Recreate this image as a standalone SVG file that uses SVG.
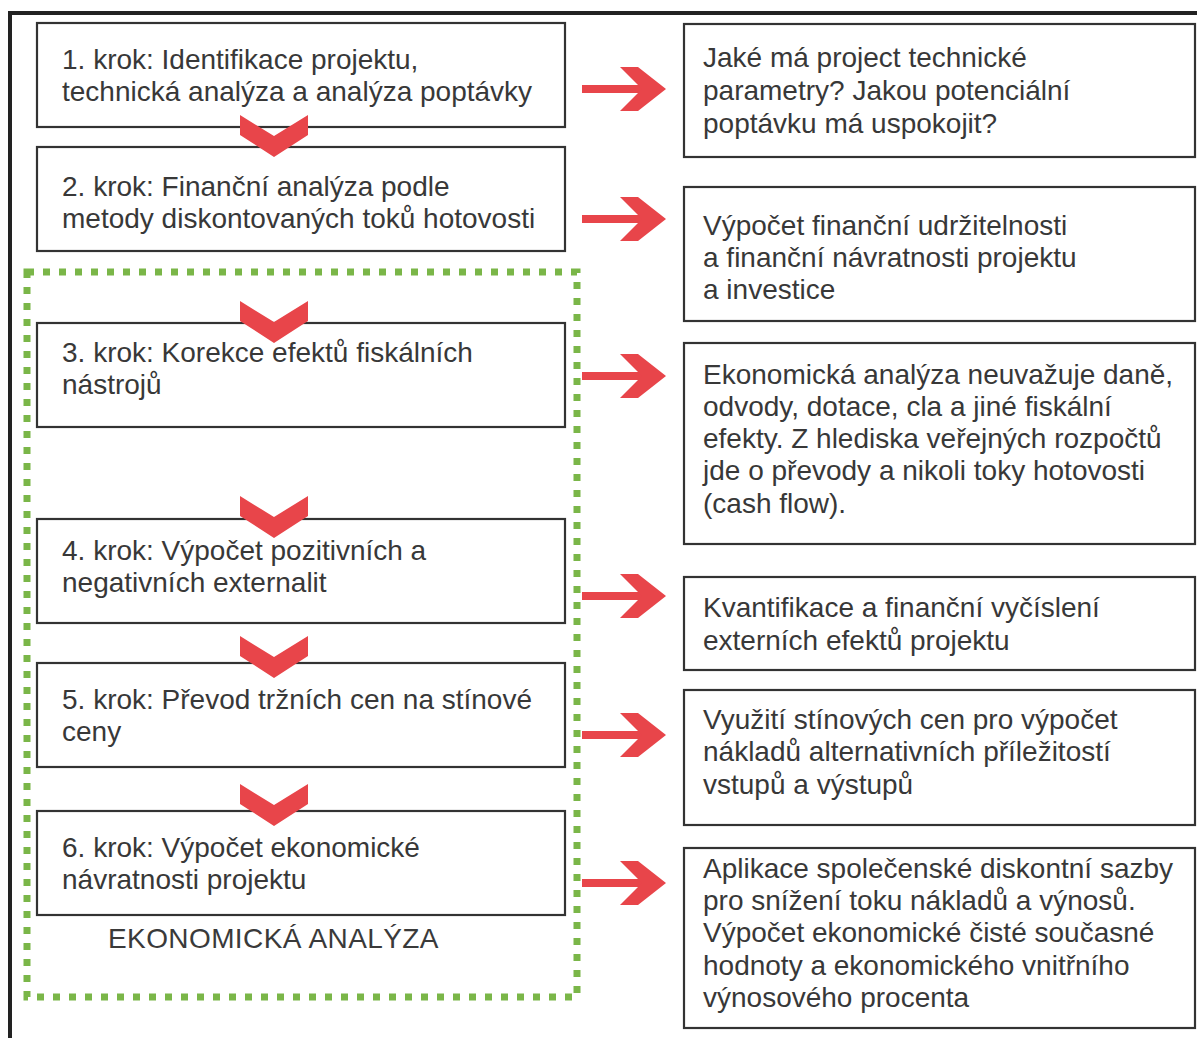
<svg xmlns="http://www.w3.org/2000/svg" width="1197" height="1038" viewBox="0 0 1197 1038">
<defs>
<style>
.box{fill:#fff;stroke:#333;stroke-width:2.2}
.t{font-family:"Liberation Sans",Arial,sans-serif;font-size:28px;fill:#383838}
.lbl{font-family:"Liberation Sans",Arial,sans-serif;font-size:28px;letter-spacing:0.4px;fill:#3a3a3a}
.chev{fill:#e8454a}
.arr{fill:#e8454a}
.frame{stroke:#222;stroke-width:4;fill:none}
.eco{fill:none;stroke:#7ab648;stroke-width:7;stroke-dasharray:7 9}
</style>
<g id="arrowShape">
<rect x="0" y="-4" width="68" height="8"/>
<polygon points="38,-22 56,-22 84,0 56,22 38,22 60,0"/>
</g>
<polygon id="chevShape" points="-34,0 0,21 34,0 34,20 0,42 -34,20"/>
</defs>
<rect width="1197" height="1038" fill="#fff"/>
<g id="frame">
<line class="frame" x1="8" y1="13" x2="1197" y2="13"/>
<line class="frame" x1="10" y1="11" x2="10" y2="1038"/>
</g>
<g id="ekonomicka-analyza">
<rect class="eco" x="27" y="272" width="550" height="725"/>
<text class="lbl" x="108" y="948">EKONOMICKÁ ANALÝZA</text>
</g>
<g id="step1">
<rect class="box" x="37" y="23" width="528" height="104"/>
<text class="t" x="62" y="69">1. krok: Identifikace projektu,</text>
<text class="t" x="62" y="101">technická analýza a analýza poptávky</text>
</g>
<g id="step2">
<rect class="box" x="37" y="147" width="528" height="104"/>
<text class="t" x="62" y="196">2. krok: Finanční analýza podle</text>
<text class="t" x="62" y="228">metody diskontovaných toků hotovosti</text>
</g>
<g id="step3">
<rect class="box" x="37" y="323" width="528" height="104"/>
<text class="t" x="62" y="362">3. krok: Korekce efektů fiskálních</text>
<text class="t" x="62" y="394">nástrojů</text>
</g>
<g id="step4">
<rect class="box" x="37" y="519" width="528" height="104"/>
<text class="t" x="62" y="560">4. krok: Výpočet pozitivních a</text>
<text class="t" x="62" y="592">negativních externalit</text>
</g>
<g id="step5">
<rect class="box" x="37" y="663" width="528" height="104"/>
<text class="t" x="62" y="709">5. krok: Převod tržních cen na stínové</text>
<text class="t" x="62" y="741">ceny</text>
</g>
<g id="step6">
<rect class="box" x="37" y="811" width="528" height="104"/>
<text class="t" x="62" y="857">6. krok: Výpočet ekonomické</text>
<text class="t" x="62" y="889">návratnosti projektu</text>
</g>
<g id="desc1">
<rect class="box" x="684" y="24" width="511" height="133"/>
<text class="t" x="703" y="67">Jaké má project technické</text>
<text class="t" x="703" y="100">parametry? Jakou potenciální</text>
<text class="t" x="703" y="133">poptávku má uspokojit?</text>
</g>
<g id="desc2">
<rect class="box" x="684" y="187" width="511" height="134"/>
<text class="t" x="703" y="235">Výpočet finanční udržitelnosti</text>
<text class="t" x="703" y="267">a finanční návratnosti projektu</text>
<text class="t" x="703" y="299">a investice</text>
</g>
<g id="desc3">
<rect class="box" x="684" y="343" width="511" height="201"/>
<text class="t" x="703" y="384">Ekonomická analýza neuvažuje daně,</text>
<text class="t" x="703" y="416">odvody, dotace, cla a jiné fiskální</text>
<text class="t" x="703" y="448">efekty. Z hlediska veřejných rozpočtů</text>
<text class="t" x="703" y="480">jde o převody a nikoli toky hotovosti</text>
<text class="t" x="703" y="513">(cash flow).</text>
</g>
<g id="desc4">
<rect class="box" x="684" y="577" width="511" height="93"/>
<text class="t" x="703" y="617">Kvantifikace a finanční vyčíslení</text>
<text class="t" x="703" y="650">externích efektů projektu</text>
</g>
<g id="desc5">
<rect class="box" x="684" y="690" width="511" height="135"/>
<text class="t" x="703" y="729">Využití stínových cen pro výpočet</text>
<text class="t" x="703" y="761">nákladů alternativních příležitostí</text>
<text class="t" x="703" y="794">vstupů a výstupů</text>
</g>
<g id="desc6">
<rect class="box" x="684" y="848" width="511" height="180"/>
<text class="t" x="703" y="878">Aplikace společenské diskontní sazby</text>
<text class="t" x="703" y="910">pro snížení toku nákladů a výnosů.</text>
<text class="t" x="703" y="942">Výpočet ekonomické čisté současné</text>
<text class="t" x="703" y="975">hodnoty a ekonomického vnitřního</text>
<text class="t" x="703" y="1007">výnosového procenta</text>
</g>
<g id="connectors">
<use href="#chevShape" class="chev" x="274" y="115"/>
<use href="#chevShape" class="chev" x="274" y="301"/>
<use href="#chevShape" class="chev" x="274" y="496"/>
<use href="#chevShape" class="chev" x="274" y="636"/>
<use href="#chevShape" class="chev" x="274" y="784"/>
<use href="#arrowShape" class="arr" x="582" y="89"/>
<use href="#arrowShape" class="arr" x="582" y="219"/>
<use href="#arrowShape" class="arr" x="582" y="376"/>
<use href="#arrowShape" class="arr" x="582" y="596"/>
<use href="#arrowShape" class="arr" x="582" y="735"/>
<use href="#arrowShape" class="arr" x="582" y="883"/>
</g>
</svg>
